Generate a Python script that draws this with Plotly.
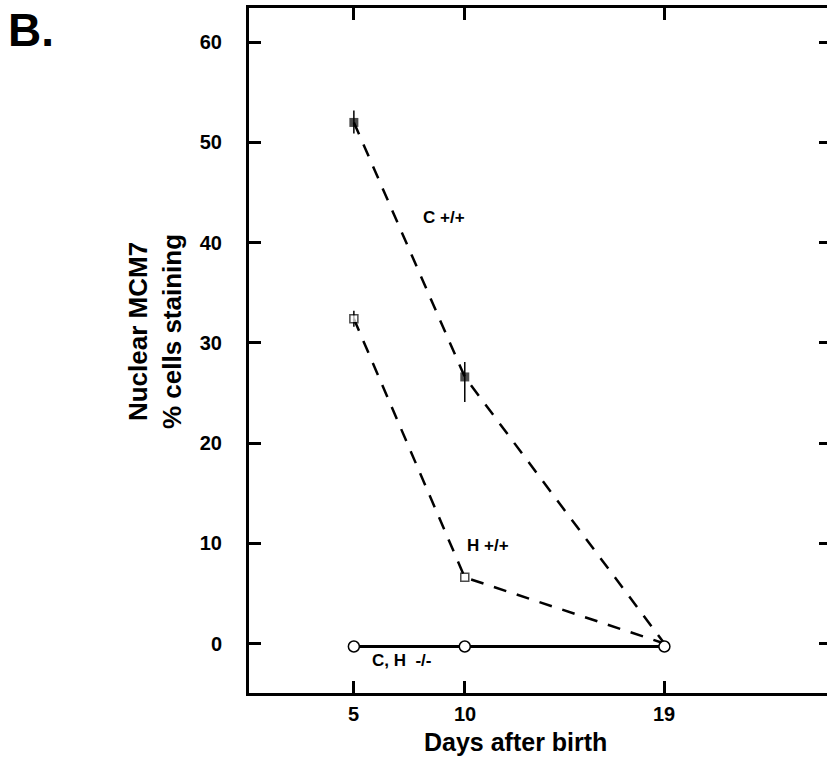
import plotly.graph_objects as go

# ---- data ----
days = [5, 10, 19]
c_wt = [52.0, 26.6, 0.0]
c_wt_err_plus = [1.2, 1.5, 0.0]
c_wt_err_minus = [1.1, 2.5, 0.0]
h_wt = [32.4, 6.6, 0.0]
h_wt_err = [0.8, 0.0, 0.0]
ko = [-0.3, -0.3, -0.3]
x_ticks = [5, 10, 19]
y_ticks = [0, 10, 20, 30, 40, 50, 60]
series_labels = ["C +/+", "H +/+", "C, H\u00a0 -/-"]
label_x = [9.06, 11.03, 7.17]
label_y = [42.5, 9.8, -1.65]

FONT = "Liberation Sans, Arial, Helvetica, sans-serif"
W, H = 827, 759
ML, MR, MT, MB = 249, 0, 8, 66
Y_RANGE = [-4.94, 63.42]

fig = go.Figure()

fig.add_trace(go.Scatter(
    x=days, y=h_wt, mode="lines+markers",
    line=dict(color="black", width=2.5, dash="13px,11px"),
    marker=dict(symbol="square", size=[8, 8, 0], color="white",
                line=dict(color="black", width=1.5)),
    error_y=dict(type="data", array=h_wt_err, color="black",
                 thickness=1.5, width=0),
    showlegend=False, cliponaxis=False))

fig.add_trace(go.Scatter(
    x=days, y=c_wt, mode="lines+markers",
    line=dict(color="black", width=2.5, dash="13px,11px"),
    marker=dict(symbol="square", size=[9, 9, 0], color="black",
                line=dict(color="black", width=0)),
    error_y=dict(type="data", symmetric=False, array=c_wt_err_plus,
                 arrayminus=c_wt_err_minus, color="black",
                 thickness=1.5, width=0),
    showlegend=False, cliponaxis=False))

fig.add_trace(go.Scatter(
    x=days, y=ko, mode="lines+markers",
    line=dict(color="black", width=3),
    marker=dict(symbol="circle", size=11, color="white",
                line=dict(color="black", width=1.5)),
    showlegend=False, cliponaxis=False))

# invisible trace so the right-hand tick axis is drawn
fig.add_trace(go.Scatter(x=[days[0]], y=[ko[0]], yaxis="y2", mode="markers",
                         marker=dict(opacity=0), showlegend=False,
                         hoverinfo="skip"))

for t, lx, ly in zip(series_labels, label_x, label_y):
    fig.add_annotation(x=lx, y=ly, xref="x", yref="y", text=t,
                       showarrow=False, xanchor="center", yanchor="middle",
                       font=dict(family=FONT, size=17, color="black",
                                 weight="bold"))

pw = W - ML - MR
ph = H - MT - MB

def px_to_paper(px, py):
    return (px - ML) / pw, (H - MB - py) / ph

# x tick labels placed as text just below the axis
_, tly = px_to_paper(0, 714)
for v in x_ticks:
    fig.add_annotation(x=v, y=tly, xref="x", yref="paper", text=str(v),
                       showarrow=False, xanchor="center", yanchor="middle",
                       font=dict(family=FONT, size=20, color="black",
                                 weight="bold"))

bx, by = px_to_paper(31, 30)
fig.add_annotation(x=bx, y=by, xref="paper", yref="paper", text="B.",
                   showarrow=False, xanchor="center", yanchor="middle",
                   font=dict(family=FONT, size=46, color="black", weight="bold"))

tx, ty = px_to_paper(155, 332)
fig.add_annotation(x=tx, y=ty, xref="paper", yref="paper",
                   text="Nuclear MCM7<br>% cells staining", textangle=-90,
                   showarrow=False, xanchor="center", yanchor="middle",
                   font=dict(family=FONT, size=26, color="black", weight="bold"))

xx, xy = px_to_paper(515, 742)
fig.add_annotation(x=xx, y=xy, xref="paper", yref="paper",
                   text="Days after birth",
                   showarrow=False, xanchor="center", yanchor="middle",
                   font=dict(family=FONT, size=25, color="black", weight="bold"))

fig.update_layout(
    width=W, height=H,
    margin=dict(l=ML, r=MR, t=MT, b=MB, pad=0),
    paper_bgcolor="white", plot_bgcolor="white",
    showlegend=False,
    xaxis=dict(range=[0.272, 26.33], tickmode="array", tickvals=x_ticks,
               showticklabels=False,
               ticks="inside", ticklen=12, tickwidth=3, tickcolor="black",
               showline=True, linewidth=3, linecolor="black", mirror="ticks",
               showgrid=False, zeroline=False),
    yaxis=dict(range=Y_RANGE, tickmode="array", tickvals=y_ticks,
               ticktext=[str(v) for v in y_ticks],
               ticks="inside", ticklen=12, tickwidth=3, tickcolor="black",
               showline=True, linewidth=3, linecolor="black", mirror=False,
               showgrid=False, zeroline=False,
               tickfont=dict(family=FONT, size=20, color="black", weight="bold"),
               ticklabelstandoff=20),
    yaxis2=dict(range=Y_RANGE, overlaying="y", side="right",
                tickmode="array", tickvals=y_ticks, showticklabels=False,
                ticks="inside", ticklen=8, tickwidth=3, tickcolor="black",
                showline=False, showgrid=False, zeroline=False),
)

fig.write_html("out.html",
               config={"displayModeBar": False},
               post_script="document.body.style.margin='0px';"
                           "document.body.style.overflow='hidden';")
